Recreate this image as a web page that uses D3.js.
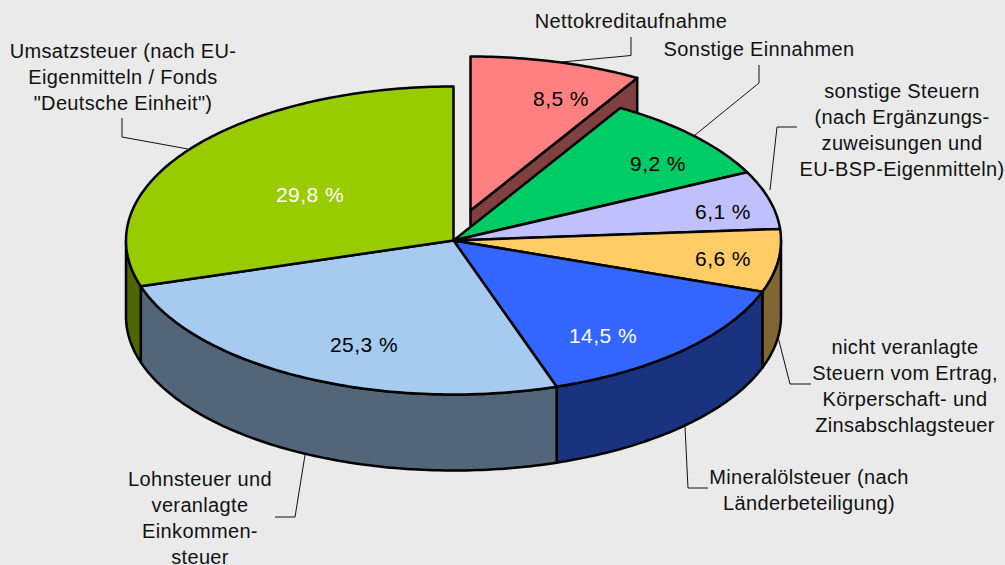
<!DOCTYPE html>
<html>
<head>
<meta charset="utf-8">
<script src="https://cdn.jsdelivr.net/npm/d3@7"></script>
<style>
    html, body { margin: 0; padding: 0; background: #eaeaea; }
    svg { display: block; }
    text { font-family: "Liberation Sans", Arial, sans-serif; }
</style>
</head>
<body>
<div id="chart"></div>
<script>
// slices, clockwise from 12 o'clock
const categories = ['Nettokreditaufnahme', 'Sonstige Einnahmen', 'sonstige Steuern', 'nicht veranlagte Steuern',
    'Mineralölsteuer', 'Lohnsteuer', 'Umsatzsteuer'];
const shares = [8.5, 9.2, 6.1, 6.6, 14.5, 25.3, 29.8];
const shareLabels = ['8,5 %', '9,2 %', '6,1 %', '6,6 %', '14,5 %', '25,3 %', '29,8 %'];
const labelLines = [
    ['Nettokreditaufnahme'],
    ['Sonstige Einnahmen'],
    ['sonstige Steuern', '(nach Ergänzungs-', 'zuweisungen und', 'EU-BSP-Eigenmitteln)'],
    ['nicht veranlagte', 'Steuern vom Ertrag,', 'Körperschaft- und', 'Zinsabschlagsteuer'],
    ['Mineralölsteuer (nach', 'Länderbeteiligung)'],
    ['Lohnsteuer und', 'veranlagte', 'Einkommen-', 'steuer'],
    ['Umsatzsteuer (nach EU-', 'Eigenmitteln / Fonds', '"Deutsche Einheit")']
];

const colors = ['#ff8080', '#00cc66', '#c0c0ff', '#ffcc66', '#3366ff', '#a6caf0', '#99cc00'];
const valueColors = ['#000', '#000', '#000', '#000', '#fff', '#000', '#fff'];

// layout
const width = 1005, height = 565;
const cx = 453.5, cy = 240.5, rx = 327.5, ry = 154, depth = 76;
const explode = { dx: 17, dy: -30 };
const valuePos = [[561, 106], [658, 171], [723, 219], [723, 266], [603, 343], [364, 352], [310, 202]];
const textPos = [[631, 28], [759, 56], [902, 98], [905, 354], [809, 484], [200, 486], [123, 58]];
const leaders = [
    [[631, 37], [631, 55.5], [562, 62]],
    [[759, 65], [759, 83], [695, 135]],
    [[797, 127], [777, 127], [770, 190]],
    [[811, 384], [790, 384], [778, 337]],
    [[708, 488], [688, 488], [685, 427]],
    [[275, 517], [295, 517], [305, 455]],
    [[122, 118], [122, 137], [188, 149]]
];

const svg = d3.select('#chart').append('svg')
    .attr('width', width)
    .attr('height', height);

svg.append('rect')
    .attr('width', width)
    .attr('height', height)
    .attr('fill', '#eaeaea');

const pie = d3.pie().sort(null).value(d => d);
const slices = pie(shares);

// side walls are the same colour at half brightness
function halfTone(c) {
    const rgb = d3.rgb(c);
    return d3.rgb(rgb.r / 2, rgb.g / 2, rgb.b / 2).formatHex();
}

// angle is clockwise from the top, as d3.pie gives it
function px(a, i) { return cx + offset(i).dx + rx * Math.sin(a); }
function py(a, i) { return cy + offset(i).dy - ry * Math.cos(a); }
function offset(i) { return i === 0 ? explode : { dx: 0, dy: 0 }; }

function arcPoints(a0, a1, i, shift) {
    const n = Math.max(2, Math.ceil((a1 - a0) * 60));
    return d3.range(n + 1).map(k => {
        const a = a0 + (a1 - a0) * k / n;
        return [px(a, i), py(a, i) + shift];
    });
}

const line = d3.line();

// the cut face of the pulled out slice, the rest of the pie covers its lower part
svg.append('path')
    .attr('d', () => {
        const s = slices[0];
        const ax = cx + explode.dx, ay = cy + explode.dy;
        const tx = px(s.endAngle, 0), ty = py(s.endAngle, 0);
        return line([[ax, ay], [tx, ty], [tx, ty + depth], [ax, ay + depth]]) + 'Z';
    })
    .attr('fill', halfTone(colors[0]))
    .attr('stroke', '#000')
    .attr('stroke-width', 2.5)
    .attr('stroke-linejoin', 'round');

// front wall, only the part of each slice between 3 and 9 o'clock shows
slices.forEach((s, i) => {
    if (i === 0) return;
    const a0 = Math.max(s.startAngle, Math.PI / 2);
    const a1 = Math.min(s.endAngle, Math.PI * 1.5);
    if (a1 <= a0) return;
    const top = arcPoints(a0, a1, i, 0);
    const bottom = arcPoints(a0, a1, i, depth).reverse();
    svg.append('path')
        .attr('d', line(top.concat(bottom)) + 'Z')
        .attr('fill', halfTone(colors[i]))
        .attr('stroke', '#000')
        .attr('stroke-width', 2.5)
        .attr('stroke-linejoin', 'round');
});

// top faces
svg.selectAll('path.face')
    .data(slices)
    .enter()
    .append('path')
    .attr('class', 'face')
    .attr('d', (s, i) => {
        const o = offset(i);
        return line([[cx + o.dx, cy + o.dy]].concat(arcPoints(s.startAngle, s.endAngle, i, 0))) + 'Z';
    })
    .attr('fill', (s, i) => colors[i])
    .attr('stroke', '#000')
    .attr('stroke-width', 2.5)
    .attr('stroke-linejoin', 'round');

// leader lines
svg.selectAll('path.leader')
    .data(leaders)
    .enter()
    .append('path')
    .attr('class', 'leader')
    .attr('d', d => line(d))
    .attr('fill', 'none')
    .attr('stroke', '#111')
    .attr('stroke-width', 1);

// percent labels
svg.selectAll('text.value')
    .data(shareLabels)
    .enter()
    .append('text')
    .attr('class', 'value')
    .attr('x', (d, i) => valuePos[i][0])
    .attr('y', (d, i) => valuePos[i][1])
    .attr('text-anchor', 'middle')
    .attr('font-size', 21)
    .attr('letter-spacing', 0.45)
    .attr('fill', (d, i) => valueColors[i])
    .text(d => d);

// category labels
labelLines.forEach((lines, i) => {
    const t = svg.append('text')
        .attr('class', 'label')
        .attr('data-name', categories[i])
        .attr('text-anchor', 'middle')
        .attr('font-size', 20)
        .attr('letter-spacing', 0.35)
        .attr('fill', '#111');
    lines.forEach((l, k) => {
        t.append('tspan')
            .attr('x', textPos[i][0])
            .attr('y', textPos[i][1] + k * 26)
            .text(l);
    });
});
</script>
</body>
</html>
